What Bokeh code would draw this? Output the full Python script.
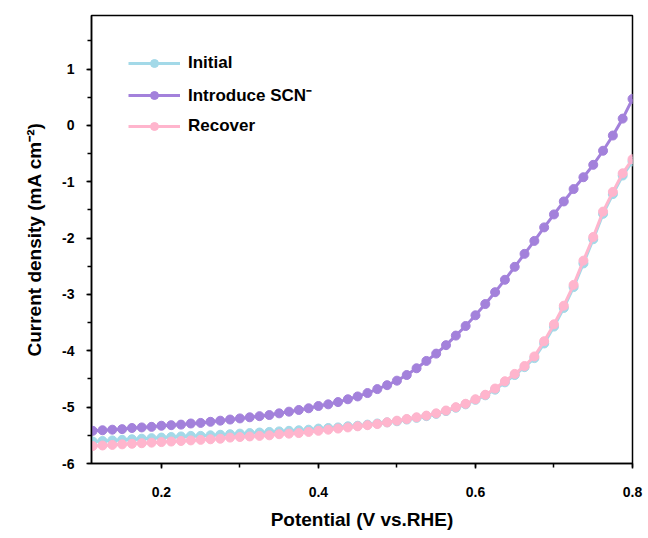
from bokeh.plotting import figure
from bokeh.models import Range1d, SingleIntervalTicker, Legend, LegendItem, ColumnDataSource, PrintfTickFormatter
from bokeh.embed import file_html
from bokeh.resources import INLINE

# Potential grid (V vs. RHE), one marker every 0.0125 V
potential = [round(0.1125 + 0.0125 * k, 4) for k in range(56)]

initial = [-5.61, -5.60, -5.59, -5.58, -5.57, -5.56, -5.55, -5.54, -5.53, -5.52,
           -5.51, -5.51, -5.50, -5.49, -5.48, -5.47, -5.46, -5.45, -5.44, -5.43,
           -5.42, -5.41, -5.40, -5.38, -5.37, -5.36, -5.34, -5.33, -5.31, -5.29,
           -5.27, -5.25, -5.22, -5.19, -5.16, -5.12, -5.07, -5.01, -4.95, -4.87,
           -4.79, -4.69, -4.56, -4.43, -4.29, -4.13, -3.87, -3.57, -3.24, -2.87,
           -2.45, -2.02, -1.57, -1.22, -0.89, -0.64]

introduce = [-5.42, -5.41, -5.40, -5.39, -5.37, -5.36, -5.35, -5.33, -5.32, -5.31,
             -5.29, -5.28, -5.26, -5.24, -5.22, -5.20, -5.18, -5.16, -5.14, -5.11,
             -5.08, -5.05, -5.02, -4.98, -4.95, -4.91, -4.86, -4.81, -4.75, -4.68,
             -4.61, -4.53, -4.43, -4.31, -4.18, -4.05, -3.90, -3.73, -3.56, -3.37,
             -3.17, -2.96, -2.74, -2.51, -2.28, -2.05, -1.81, -1.58, -1.35, -1.13,
             -0.92, -0.70, -0.45, -0.18, 0.12, 0.47]

recover = [-5.69, -5.68, -5.67, -5.66, -5.65, -5.64, -5.63, -5.62, -5.61, -5.60,
           -5.59, -5.58, -5.57, -5.56, -5.54, -5.53, -5.52, -5.51, -5.50, -5.48,
           -5.47, -5.46, -5.44, -5.42, -5.40, -5.38, -5.36, -5.34, -5.32, -5.30,
           -5.27, -5.24, -5.21, -5.18, -5.15, -5.11, -5.06, -5.00, -4.94, -4.86,
           -4.78, -4.67, -4.54, -4.41, -4.27, -4.10, -3.83, -3.53, -3.20, -2.83,
           -2.40, -1.98, -1.53, -1.18, -0.85, -0.60]

series_names = ["Initial", "Introduce SCN\u207b", "Recover"]
series_colors = ["#a3d9e8", "#a381db", "#ffb5cd"]

p = figure(width=648, height=538, output_backend="svg", toolbar_location=None,
           x_range=Range1d(0.111, 0.8), y_range=Range1d(-6, 1.95),
           min_border_left=91, min_border_right=16, min_border_top=15, min_border_bottom=75)
p.background_fill_color = "white"
p.border_fill_color = "white"
p.outline_line_color = "black"
p.outline_line_width = 1.5
p.grid.visible = False

items = []
for name, ys, col in zip(series_names, [initial, introduce, recover], series_colors):
    src = ColumnDataSource(dict(x=potential, y=ys))
    ln = p.line("x", "y", source=src, line_color=col, line_width=3)
    sc = p.scatter("x", "y", source=src, size=9, fill_color=col, line_color=col)
    items.append(LegendItem(label=name, renderers=[ln, sc]))

legend = Legend(items=items, location=(32, 322), border_line_alpha=0,
                background_fill_alpha=0, padding=5, margin=0,
                glyph_width=52, glyph_height=20, label_height=20, spacing=10,
                label_standoff=8, label_text_font="Liberation Sans",
                label_text_font_style="bold", label_text_font_size="17px",
                label_text_color="black")
p.add_layout(legend, "center")

p.xaxis.ticker = SingleIntervalTicker(interval=0.2, num_minor_ticks=2)
p.yaxis.ticker = SingleIntervalTicker(interval=1, num_minor_ticks=2)
p.xaxis.formatter = PrintfTickFormatter(format="%.1f")
p.yaxis.formatter = PrintfTickFormatter(format="%d")
for ax in (p.xaxis, p.yaxis):
    ax.axis_line_width = 1.5
    ax.major_tick_line_width = 1.5
    ax.minor_tick_line_width = 1.5
    ax.major_tick_out = 5
    ax.major_tick_in = 0
    ax.minor_tick_out = 4
    ax.minor_tick_in = 0
    ax.major_label_text_font = "Liberation Sans"
    ax.major_label_text_font_style = "bold"
    ax.major_label_text_font_size = "14px"
    ax.major_label_text_color = "black"
    ax.axis_label_text_font = "Liberation Sans"
    ax.axis_label_text_font_style = "bold"
    ax.axis_label_text_font_size = "19px"
    ax.axis_label_text_color = "black"

p.xaxis.axis_label = "Potential (V vs.RHE)"
p.yaxis.axis_label = "Current density (mA cm\u207b\u00b2)"
p.xaxis.major_label_standoff = 18
p.xaxis.axis_label_standoff = 9
p.yaxis.major_label_standoff = 12
p.yaxis.axis_label_standoff = 14

open("out.html", "w").write(file_html(p, INLINE))
